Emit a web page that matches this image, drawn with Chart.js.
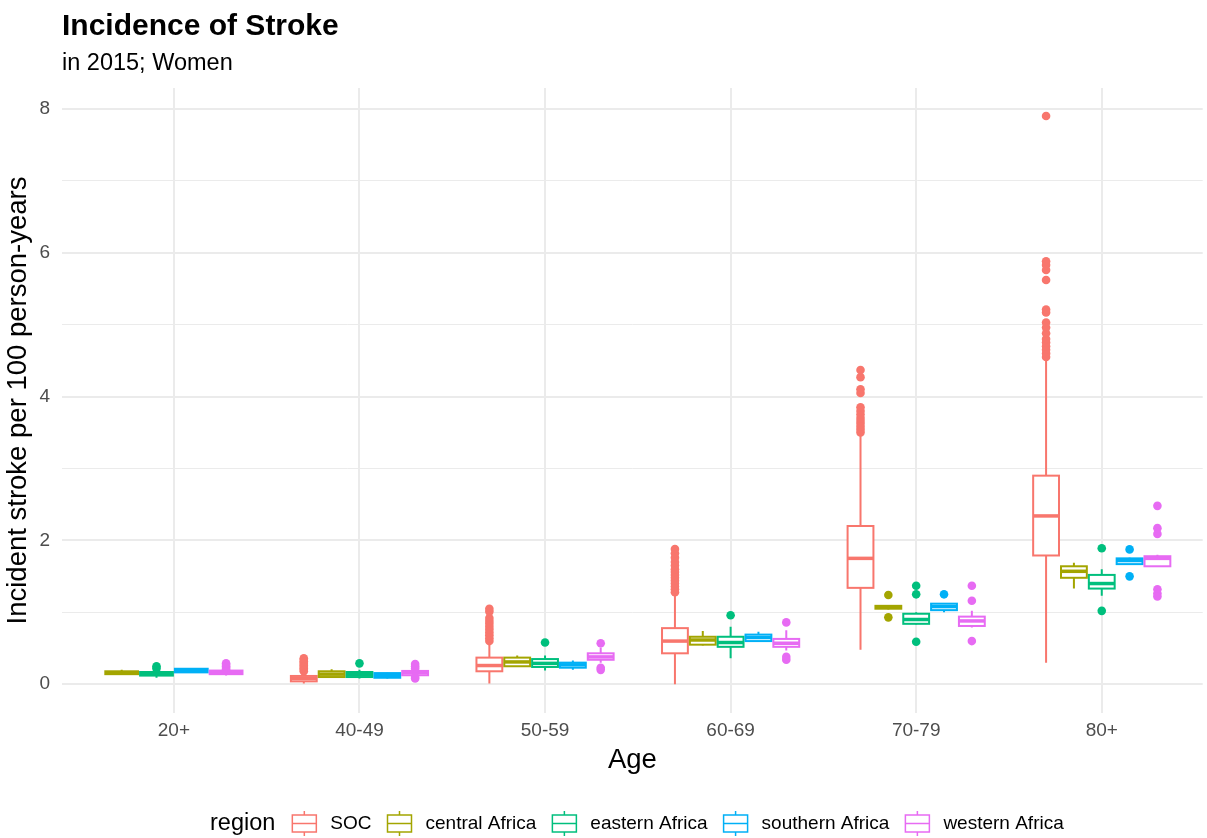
<!DOCTYPE html>
<html>
<head>
<meta charset="utf-8">
<script src="https://cdn.jsdelivr.net/npm/chart.js@4.4.0/dist/chart.umd.min.js"></script>
<style>
  html, body { margin: 0; padding: 0; background: #ffffff; }
  #wrap { width: 1207px; height: 838px; }
</style>
</head>
<body>
<div id="wrap"><canvas id="strokeChart" width="1207" height="838"></canvas></div>
<script>
const ages = ['20+', '40-49', '50-59', '60-69', '70-79', '80+'];
const regions = ['SOC', 'central Africa', 'eastern Africa', 'southern Africa', 'western Africa'];
const colors = ['#F8766D', '#A3A500', '#00BF7D', '#00B0F6', '#E76BF3'];

// [lower whisker, q1, median, q3, upper whisker] per age group
const socStats = [null, [0.01, 0.04, 0.08, 0.115, 0.16], [0.01, 0.18, 0.26, 0.37, 0.58],
  [0.0, 0.43, 0.60, 0.78, 1.25], [0.48, 1.34, 1.75, 2.20, 3.47], [0.30, 1.79, 2.34, 2.90, 4.52]];
const centralStats = [[0.13, 0.14, 0.16, 0.18, 0.20], [0.09, 0.10, 0.14, 0.18, 0.21], [0.24, 0.25, 0.31, 0.37, 0.40],
  [0.54, 0.55, 0.615, 0.66, 0.74], [1.04, 1.05, 1.07, 1.09, 1.10], [1.33, 1.48, 1.57, 1.64, 1.69]];
const easternStats = [[0.09, 0.12, 0.14, 0.17, 0.19], [0.08, 0.10, 0.135, 0.17, 0.20], [0.19, 0.24, 0.29, 0.35, 0.40],
  [0.36, 0.52, 0.58, 0.66, 0.80], [0.83, 0.84, 0.90, 0.98, 1.00], [1.23, 1.33, 1.40, 1.52, 1.60]];
const southernStats = [[0.16, 0.165, 0.19, 0.215, 0.22], [0.08, 0.09, 0.12, 0.155, 0.16], [0.20, 0.23, 0.27, 0.30, 0.33],
  [0.59, 0.60, 0.65, 0.69, 0.73], [1.00, 1.03, 1.08, 1.12, 1.13], [1.67, 1.67, 1.72, 1.75, 1.76]];
const westernStats = [[0.12, 0.14, 0.16, 0.19, 0.20], [0.11, 0.125, 0.16, 0.185, 0.20], [0.30, 0.34, 0.38, 0.43, 0.51],
  [0.47, 0.52, 0.57, 0.63, 0.75], [0.79, 0.81, 0.88, 0.94, 1.02], [1.64, 1.64, 1.75, 1.78, 1.80]];

// outliers per age group
const socOutliers = [[],
  [0.18, 0.20, 0.22, 0.24, 0.26, 0.28, 0.30, 0.32, 0.34, 0.36],
  [0.60, 0.64, 0.68, 0.72, 0.76, 0.80, 0.84, 0.88, 0.92, 1.01, 1.05],
  [1.28, 1.32, 1.36, 1.40, 1.44, 1.48, 1.52, 1.56, 1.60, 1.65, 1.70, 1.76, 1.82, 1.88],
  [3.50, 3.54, 3.58, 3.62, 3.66, 3.70, 3.75, 3.80, 3.85, 4.05, 4.10, 4.27, 4.37],
  [4.55, 4.60, 4.65, 4.70, 4.75, 4.80, 4.88, 4.96, 5.03, 5.17, 5.21, 5.62, 5.76, 5.83, 5.88, 7.90]];
const centralOutliers = [[], [], [], [], [1.24, 0.93], []];
const easternOutliers = [[0.22, 0.25], [0.29], [0.58], [0.96], [1.37, 1.25, 0.59], [1.89, 1.02]];
const southernOutliers = [[], [], [], [], [1.25], [1.875, 1.50]];
const westernOutliers = [[0.21, 0.23, 0.25, 0.27, 0.29], [0.08, 0.10, 0.22, 0.25, 0.28], [0.57, 0.23, 0.20],
  [0.86, 0.38, 0.34], [1.37, 1.16, 0.60], [2.48, 2.17, 2.09, 1.32, 1.26, 1.22]];

const yTicks = [0, 1, 2, 3, 4, 5, 6, 7, 8];

const allStats = [socStats, centralStats, easternStats, southernStats, westernStats];
const allOutliers = [socOutliers, centralOutliers, easternOutliers, southernOutliers, westernOutliers];

const FONT = '"Liberation Sans", Arial, Helvetica, sans-serif';
const DODGE = 0.75;

// ggplot style dodge: boxes share 0.75 of the slot among groups present
function dodge(ageIdx, regionIdx) {
  const present = [];
  for (let r = 0; r < regions.length; r++) {
    if (allStats[r][ageIdx]) present.push(r);
  }
  const n = present.length;
  const w = DODGE / n;
  const k = present.indexOf(regionIdx);
  return { center: ageIdx + 1 + (k - (n - 1) / 2) * w, width: w };
}

const datasets = regions.map((name, r) => {
  const pts = [];
  allOutliers[r].forEach((vals, a) => {
    if (!allStats[r][a]) return;
    const pos = dodge(a, r);
    vals.forEach(v => pts.push({ x: pos.center, y: v }));
  });
  return {
    label: name,
    data: pts,
    backgroundColor: colors[r],
    borderWidth: 0,
    pointRadius: 4.3,
    pointHoverRadius: 4.3
  };
});

const boxPlugin = {
  id: 'boxes',
  beforeDatasetsDraw(chart) {
    const { ctx, scales: { x, y } } = chart;
    ctx.save();
    for (let r = 0; r < regions.length; r++) {
      for (let a = 0; a < ages.length; a++) {
        const s = allStats[r][a];
        if (!s) continue;
        const pos = dodge(a, r);
        const x0 = x.getPixelForValue(pos.center - pos.width / 2) + 1;
        const x1 = x.getPixelForValue(pos.center + pos.width / 2) - 1;
        const xc = x.getPixelForValue(pos.center);
        const [lo, q1, med, q3, hi] = s.map(v => y.getPixelForValue(v));
        ctx.strokeStyle = colors[r];
        ctx.lineWidth = 2;
        ctx.beginPath();
        ctx.moveTo(xc, hi); ctx.lineTo(xc, q3);
        ctx.moveTo(xc, q1); ctx.lineTo(xc, lo);
        ctx.stroke();
        ctx.fillStyle = '#ffffff';
        ctx.fillRect(x0, q3, x1 - x0, q1 - q3);
        ctx.strokeRect(x0, q3, x1 - x0, q1 - q3);
        ctx.lineWidth = 3.5;
        ctx.beginPath();
        ctx.moveTo(x0, med); ctx.lineTo(x1, med);
        ctx.stroke();
      }
    }
    ctx.restore();
  }
};

const textPlugin = {
  id: 'texts',
  afterDraw(chart) {
    const ctx = chart.ctx;
    ctx.save();
    ctx.fillStyle = '#000000';
    ctx.textBaseline = 'alphabetic';
    ctx.textAlign = 'left';
    ctx.font = 'bold 30px ' + FONT;
    ctx.fillText('Incidence of Stroke', 62, 35);
    ctx.font = '23.5px ' + FONT;
    ctx.fillText('in 2015; Women', 62, 70);

    // legend
    const cy = 823;
    ctx.textBaseline = 'middle';
    ctx.font = '23.5px ' + FONT;
    ctx.fillText('region', 210, cy + 1);
    let kx = 210 + ctx.measureText('region').width + 16;
    ctx.font = '19px ' + FONT;
    regions.forEach((name, r) => {
      ctx.strokeStyle = colors[r];
      ctx.lineWidth = 1.5;
      const mid = kx + 13;
      ctx.beginPath();
      ctx.moveTo(mid, 811); ctx.lineTo(mid, 815);
      ctx.moveTo(mid, 832); ctx.lineTo(mid, 836);
      ctx.stroke();
      ctx.strokeRect(kx + 1, 815, 24, 17);
      ctx.lineWidth = 1.5;
      ctx.beginPath();
      ctx.moveTo(kx + 1, 823.5); ctx.lineTo(kx + 25, 823.5);
      ctx.stroke();
      ctx.fillStyle = '#000000';
      ctx.fillText(name, kx + 39, cy + 1);
      kx = kx + 39 + ctx.measureText(name).width + 15;
    });
    ctx.restore();
  }
};

new Chart(document.getElementById('strokeChart').getContext('2d'), {
  type: 'scatter',
  data: { datasets: datasets },
  plugins: [boxPlugin, textPlugin],
  options: {
    responsive: false,
    animation: false,
    devicePixelRatio: 1,
    layout: { padding: { top: 88, left: 0, right: 0, bottom: 55 } },
    plugins: {
      legend: { display: false },
      tooltip: { enabled: false },
      title: { display: false }
    },
    scales: {
      x: {
        type: 'linear',
        min: 0.397,
        max: 6.544,
        afterBuildTicks(scale) { scale.ticks = ages.map((_, i) => ({ value: i + 1 })); },
        afterFit(scale) { scale.height = 70; },
        border: { display: false },
        grid: { color: '#EBEBEB', lineWidth: 2, drawTicks: false },
        ticks: {
          padding: 6,
          color: '#4D4D4D',
          font: { family: FONT, size: 19 },
          callback: v => ages[Math.round(v) - 1]
        },
        title: {
          display: true,
          text: 'Age',
          color: '#000000',
          font: { family: FONT, size: 27.5 },
          padding: { top: 0, bottom: 6 }
        }
      },
      y: {
        type: 'linear',
        min: -0.4,
        max: 8.29,
        afterBuildTicks(scale) { scale.ticks = yTicks.map(v => ({ value: v })); },
        afterFit(scale) { scale.width = 62; },
        border: { display: false },
        grid: {
          color: '#EBEBEB',
          drawTicks: false,
          lineWidth: c => (c.tick && c.tick.value % 2 === 0 ? 2 : 1)
        },
        ticks: {
          padding: 12,
          color: '#4D4D4D',
          font: { family: FONT, size: 19 },
          callback: v => (v % 2 === 0 ? String(v) : '')
        },
        title: {
          display: true,
          text: 'Incident stroke per 100 person-years',
          color: '#000000',
          font: { family: FONT, size: 27.5 },
          padding: { top: 2, bottom: 0 }
        }
      }
    }
  }
});
</script>
</body>
</html>
